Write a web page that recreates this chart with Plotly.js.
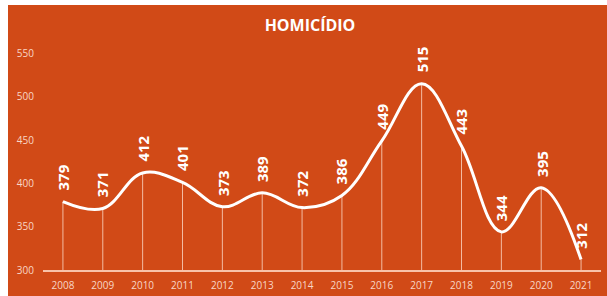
<!DOCTYPE html>
<html>
<head>
<meta charset="utf-8">
<script src="https://cdn.plot.ly/plotly-3.0.1.min.js"></script>
<style>
html,body{margin:0;padding:0;background:#ffffff;}
#chart{position:absolute;left:8px;top:5px;width:599px;height:291px;}
</style>
</head>
<body>
<div id="chart"></div>
<script>
var years = [2008, 2009, 2010, 2011, 2012, 2013, 2014, 2015, 2016, 2017, 2018, 2019, 2020, 2021];
var homicidios = [379, 371, 412, 401, 373, 389, 372, 386, 449, 515, 443, 344, 395, 312];
var yTicks = [300, 350, 400, 450, 500, 550];
var chartTitle = 'HOMICÍDIO';

var baseValue = 300;
var dropMinus = homicidios.map(function(v){ return v - baseValue; });
var zeros = homicidios.map(function(){ return 0; });

var dropTrace = {
  x: years, y: homicidios, type: 'scatter', mode: 'markers',
  marker: {size: 1, color: 'rgba(0,0,0,0)'},
  error_y: {type: 'data', symmetric: false, array: zeros, arrayminus: dropMinus,
            width: 0, thickness: 1, color: 'rgba(255,225,210,0.75)'},
  hoverinfo: 'skip', showlegend: false
};
var lineTrace = {
  x: years, y: homicidios, type: 'scatter', mode: 'lines',
  line: {shape: 'spline', smoothing: 1.1, color: '#ffffff', width: 3},
  showlegend: false
};

var annotations = years.map(function(yr, i){
  return {
    x: yr, y: homicidios[i], xref: 'x', yref: 'y',
    text: String(homicidios[i]), showarrow: false,
    textangle: -90, xanchor: 'center', yanchor: 'bottom', yshift: 9,
    font: {family: 'Open Sans, sans-serif', size: 15, color: '#ffffff', weight: 'bold'}
  };
});

var layout = {
  width: 599, height: 291,
  paper_bgcolor: '#D14A17', plot_bgcolor: '#D14A17',
  margin: {l: 35, r: 6, t: 31, b: 26},
  title: {text: '<b>' + chartTitle + '</b>', x: 302/599, xanchor: 'center', y: 1 - 20/291, yanchor: 'middle',
          font: {family: 'Open Sans, sans-serif', size: 16, color: '#ffffff'}},
  xaxis: {range: [2007.5, 2021.5], tickvals: years, ticktext: years.map(String),
          showgrid: false, zeroline: false, showline: true, linecolor: 'rgba(255,215,195,0.85)', linewidth: 1.5,
          ticks: '', ticklabelstandoff: 5,
          tickfont: {family: 'Open Sans, sans-serif', size: 10, color: '#F8D6C6'}},
  yaxis: {range: [300, 570], tickvals: yTicks, showgrid: false, zeroline: false, showline: false,
          ticks: '', ticklabelstandoff: 8,
          tickfont: {family: 'Open Sans, sans-serif', size: 10, color: '#F8D6C6'}},
  annotations: annotations,
  showlegend: false
};

Plotly.newPlot('chart', [dropTrace, lineTrace], layout, {displayModeBar: false, staticPlot: true});
</script>
</body>
</html>
